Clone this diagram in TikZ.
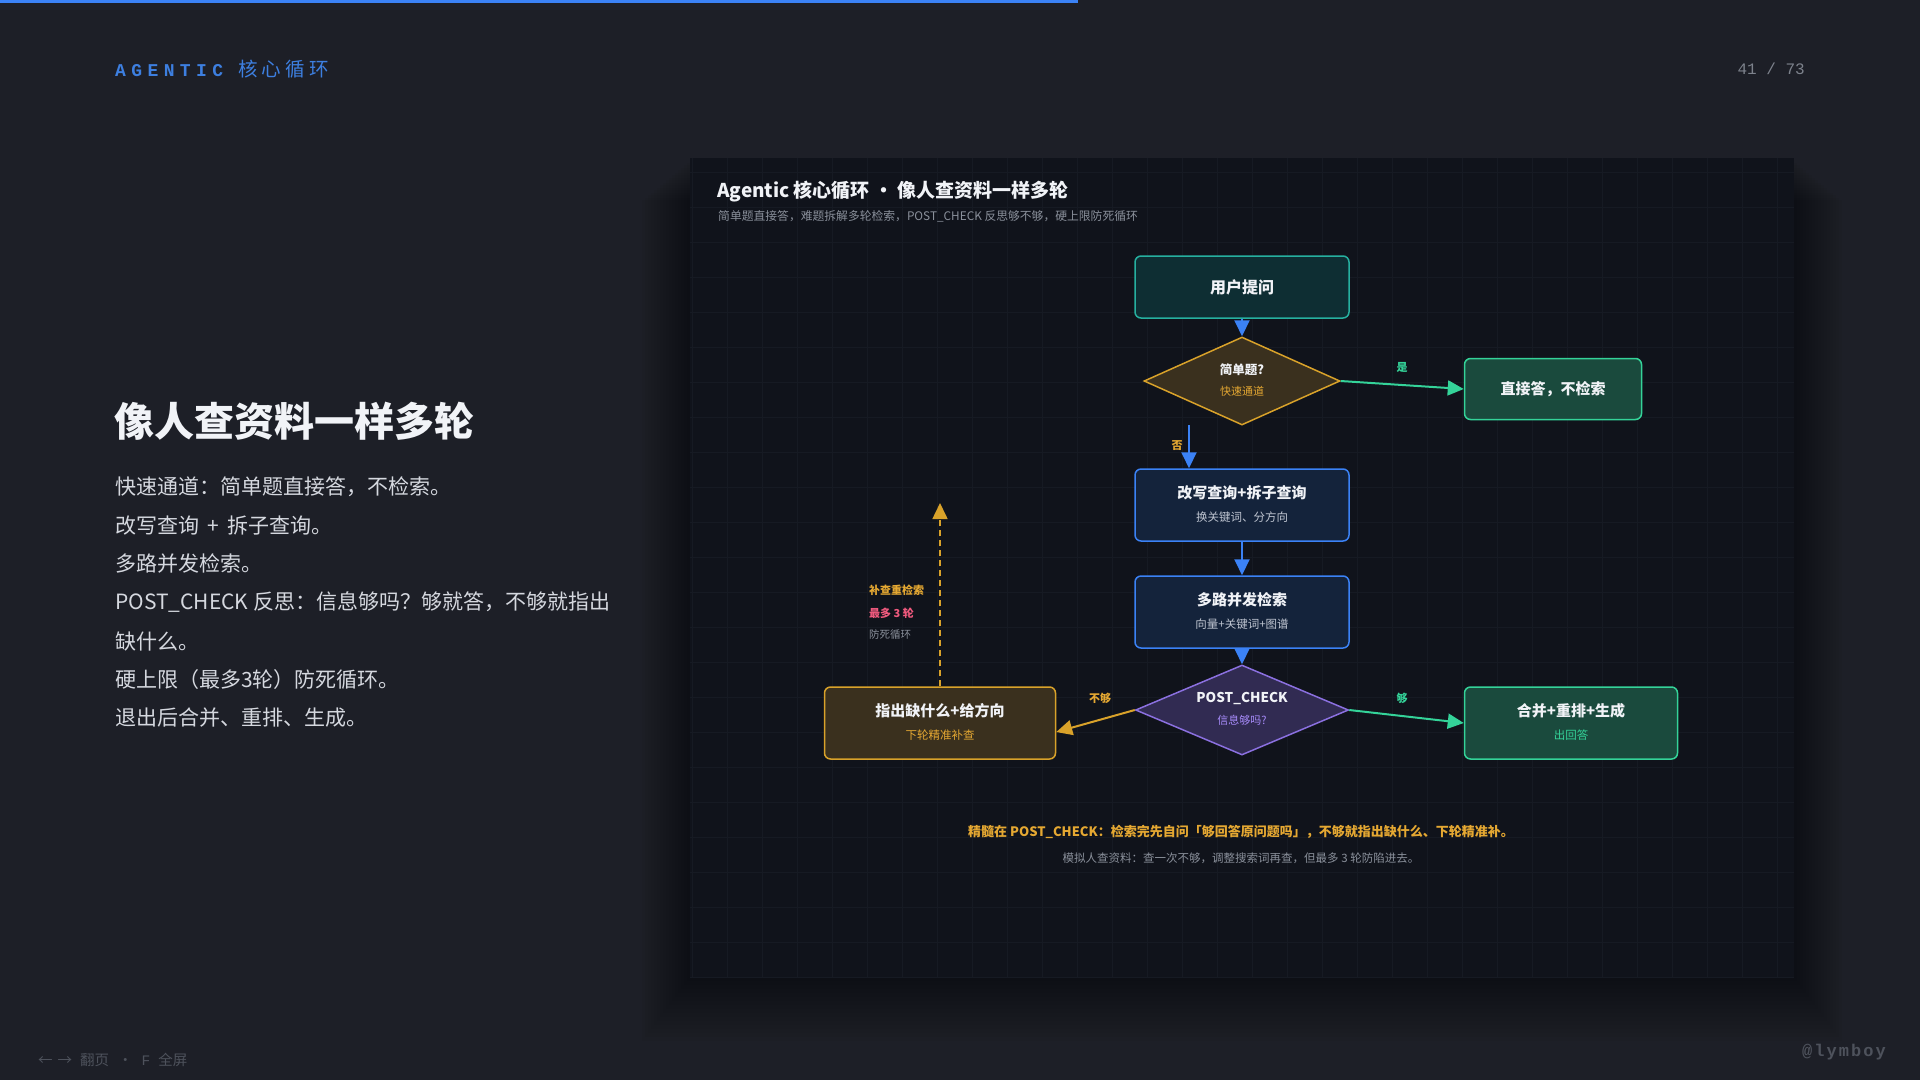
\documentclass[tikz,border=0pt]{standalone}
\usepackage{fontspec}
\setmainfont{Noto Sans CJK SC}
\newfontfamily\hdrmono[LetterSpace=30]{Liberation Mono}
\newfontfamily\hdrcjk[LetterSpace=22]{Noto Sans CJK SC}
\newfontfamily\pgmono{Liberation Mono}
\newfontfamily\wmmono[LetterSpace=12]{Liberation Mono}
\usetikzlibrary{arrows.meta,shapes.geometric}
\newcommand\fsz[1]{\fontsize{#1pt}{#1pt}\selectfont}
\definecolor{pagebg}{HTML}{1D1F27}
\definecolor{panelbg}{HTML}{10131B}
\definecolor{gridc}{HTML}{161A23}
\definecolor{barblue}{HTML}{3B82F6}
\definecolor{hdrblue}{HTML}{3D7FE0}
\definecolor{pgnum}{HTML}{7D828C}
\definecolor{dimtxt}{HTML}{4E525C}
\definecolor{bodytxt}{HTML}{D5D8DF}
\definecolor{whitet}{HTML}{F1F3F7}
\definecolor{grayt}{HTML}{8A909B}
\definecolor{subt}{HTML}{C0C6D2}
\definecolor{tealfill}{HTML}{0E2E33}
\definecolor{tealline}{HTML}{26B0A0}
\definecolor{greenfill}{HTML}{1A4A3D}
\definecolor{greenline}{HTML}{34D399}
\definecolor{bluefill}{HTML}{14233B}
\definecolor{blueline}{HTML}{3B82F6}
\definecolor{amberfill}{HTML}{3A301E}
\definecolor{amberline}{HTML}{D9A22A}
\definecolor{ambertxt}{HTML}{E5A832}
\definecolor{purfill}{HTML}{312B52}
\definecolor{purline}{HTML}{8B70E0}
\definecolor{purtxt}{HTML}{A78BFA}
\definecolor{pinktxt}{HTML}{F05A7E}
\tikzset{
  box/.style={draw, rounded corners=6pt, line width=1.5pt, minimum width=214pt, minimum height=72pt, inner sep=0pt},
  dia/.style={draw, diamond, line width=1.5pt, inner sep=0pt},
  ttl/.style={inner sep=0pt, text=whitet, font=\fsz{15}\bfseries},
  sub/.style={inner sep=0pt, font=\fsz{11.5}},
  lbl/.style={inner sep=0pt, font=\fsz{11}\bfseries},
  arr/.style={-{Triangle[length=16pt,width=15pt]}, line width=2pt},
}
\begin{document}
\begin{tikzpicture}[x=1pt,y=-1pt]
\useasboundingbox (0,0) rectangle (1920,1080);
\fill[pagebg] (0,0) rectangle (1920,1080);
\fill[barblue] (0,0) rectangle (1078,3);
% header
\node[anchor=west, inner sep=0pt, text=hdrblue] (hdr) at (115,69) {{\hdrmono\fsz{18}\bfseries AGENTIC}\hspace{15pt}{\hdrcjk\fsz{19.5}核心循环}};
\node[anchor=east, inner sep=0pt, text=pgnum] (pg) at (1805,69) {\pgmono\fsz{16}41 / 73};
% left text
\node[anchor=west, inner sep=0pt, text=whitet] (lt) at (114,421) {\fsz{40}\bfseries 像人查资料一样多轮};
\foreach \t [count=\i from 0] in {快速通道：简单题直接答，不检索。,改写查询 \,+\, 拆子查询。,多路并发检索。,POST\_CHECK 反思：信息够吗？够就答，不够就指出,缺什么。,硬上限（最多3轮）防死循环。,退出后合并、重排、生成。}
  \node[anchor=west, inner sep=0pt, text=bodytxt] (body\i) at (115,487+38.5*\i) {\fsz{21}\t};
% footer
\node[anchor=west, inner sep=0pt, text=dimtxt] (nav) at (38,1060) {\fsz{14.5}←\hspace{5pt}→\hspace{8pt}翻页\hspace{9pt}·\hspace{9pt}{\pgmono F}\hspace{8pt}全屏};
\node[anchor=east, inner sep=0pt, text=dimtxt] (wm) at (1886,1052) {\wmmono\fsz{17}\bfseries @lymboy};
% panel shadow
\foreach \i in {1,...,16}
  \fill[black, opacity=0.028] (690-3*\i,160+2.5*\i) rectangle (1794+3*\i,977+4*\i);
\fill[panelbg] (690,158) rectangle (1794,977);
\begin{scope}
\clip (690,158) rectangle (1794,977);
\foreach \gx in {692,727,...,1800} \draw[gridc, line width=0.8pt] (\gx,158) -- (\gx,977);
\foreach \gy in {172,207,...,980} \draw[gridc, line width=0.8pt] (690,\gy) -- (1794,\gy);
\end{scope}
% panel titles
\node[anchor=west, inner sep=0pt, text=whitet] (ptitle) at (717,192) {\fsz{19}\bfseries Agentic 核心循环 · 像人查资料一样多轮};
\node[anchor=west, inner sep=0pt, text=grayt] (psub) at (718,216) {\fsz{11.8}简单题直接答，难题拆解多轮检索，POST\_CHECK 反思够不够，硬上限防死循环};
% nodes
\node[box, fill=tealfill, draw=tealline, minimum height=62pt] (user) at (1242,287) {};
\node[ttl, font=\fsz{16}\bfseries] (userT) at (1242,287) {用户提问};
\node[dia, fill=amberfill, draw=amberline, minimum width=196pt, minimum height=88pt] (simple) at (1242,381) {};
\node[ttl, font=\fsz{12.5}\bfseries] (simpleT) at (1242,370) {简单题?};
\node[sub, text=ambertxt, font=\fsz{11}] (simpleS) at (1242,391) {快速通道};
\node[box, fill=greenfill, draw=greenline, minimum width=177pt, minimum height=61pt] (direct) at (1553,389) {};
\node[ttl] (directT) at (1553,389) {直接答，不检索};
\node[box, fill=bluefill, draw=blueline] (rewrite) at (1242,505) {};
\node[ttl] (rewriteT) at (1242,493) {改写查询+拆子查询};
\node[sub, text=subt] (rewriteS) at (1242,517) {换关键词、分方向};
\node[box, fill=bluefill, draw=blueline] (multi) at (1242,612) {};
\node[ttl] (multiT) at (1242,600) {多路并发检索};
\node[sub, text=subt] (multiS) at (1242,624) {向量+关键词+图谱};
\node[dia, fill=purfill, draw=purline, minimum width=213pt, minimum height=90pt] (post) at (1242,710) {};
\node[ttl, font=\fsz{13.5}\bfseries] (postT) at (1242,698) {POST\_CHECK};
\node[sub, text=purtxt, font=\fsz{11}] (postS) at (1242,720) {信息够吗?};
\node[box, fill=amberfill, draw=amberline, minimum width=231pt] (point) at (940,723) {};
\node[ttl] (pointT) at (940,711) {指出缺什么+给方向};
\node[sub, text=ambertxt] (pointS) at (940,735) {下轮精准补查};
\node[box, fill=greenfill, draw=greenline, minimum width=213pt] (merge) at (1571,723) {};
\node[ttl] (mergeT) at (1571,711) {合并+重排+生成};
\node[sub, text=greenline] (mergeS) at (1571,735) {出回答};
% connectors
\coordinate (nostart) at (1189,425);
\coordinate (loopend) at (940,503);
\draw[arr, blueline] (user.south) -- (simple.north);
\draw[arr, greenline] (simple.east) -- (direct.west);
\draw[arr, blueline] (nostart) -- (nostart |- rewrite.north);
\draw[arr, blueline] (rewrite.south) -- (multi.north);
\draw[arr, blueline] (multi.south) -- (post.north);
\draw[arr, greenline] (post.east) -- (merge.west);
\draw[arr, amberline] (post.west) -- ([yshift=-9pt]point.east);
\draw[arr, amberline, line width=1.6pt, dash pattern=on 6pt off 4pt] (point.north) -- (loopend);
% labels
\node[lbl, text=greenline] (yesL) at (1402,367) {是};
\node[lbl, text=ambertxt] (noL) at (1177,446) {否};
\node[lbl, text=ambertxt] (notL) at (1100,698) {不够};
\node[lbl, text=greenline] (enoughL) at (1402,698) {够};
\node[lbl, anchor=west, text=ambertxt] (loop1) at (869,590) {补查重检索};
\node[lbl, anchor=west, text=pinktxt] (loop2) at (869,613) {最多 3 轮};
\node[sub, anchor=west, text=grayt, font=\fsz{10.5}] (loop3) at (869,635) {防死循环};
% bottom notes
\node[inner sep=0pt, text=ambertxt] (note1) at (1241,832) {\fsz{13}\bfseries 精髓在 POST\_CHECK：检索完先自问「够回答原问题吗」，不够就指出缺什么、下轮精准补。};
\node[inner sep=0pt, text=grayt] (note2) at (1241,858) {\fsz{11.5}模拟人查资料：查一次不够，调整搜索词再查，但最多 3 轮防陷进去。};
\end{tikzpicture}
\end{document}
